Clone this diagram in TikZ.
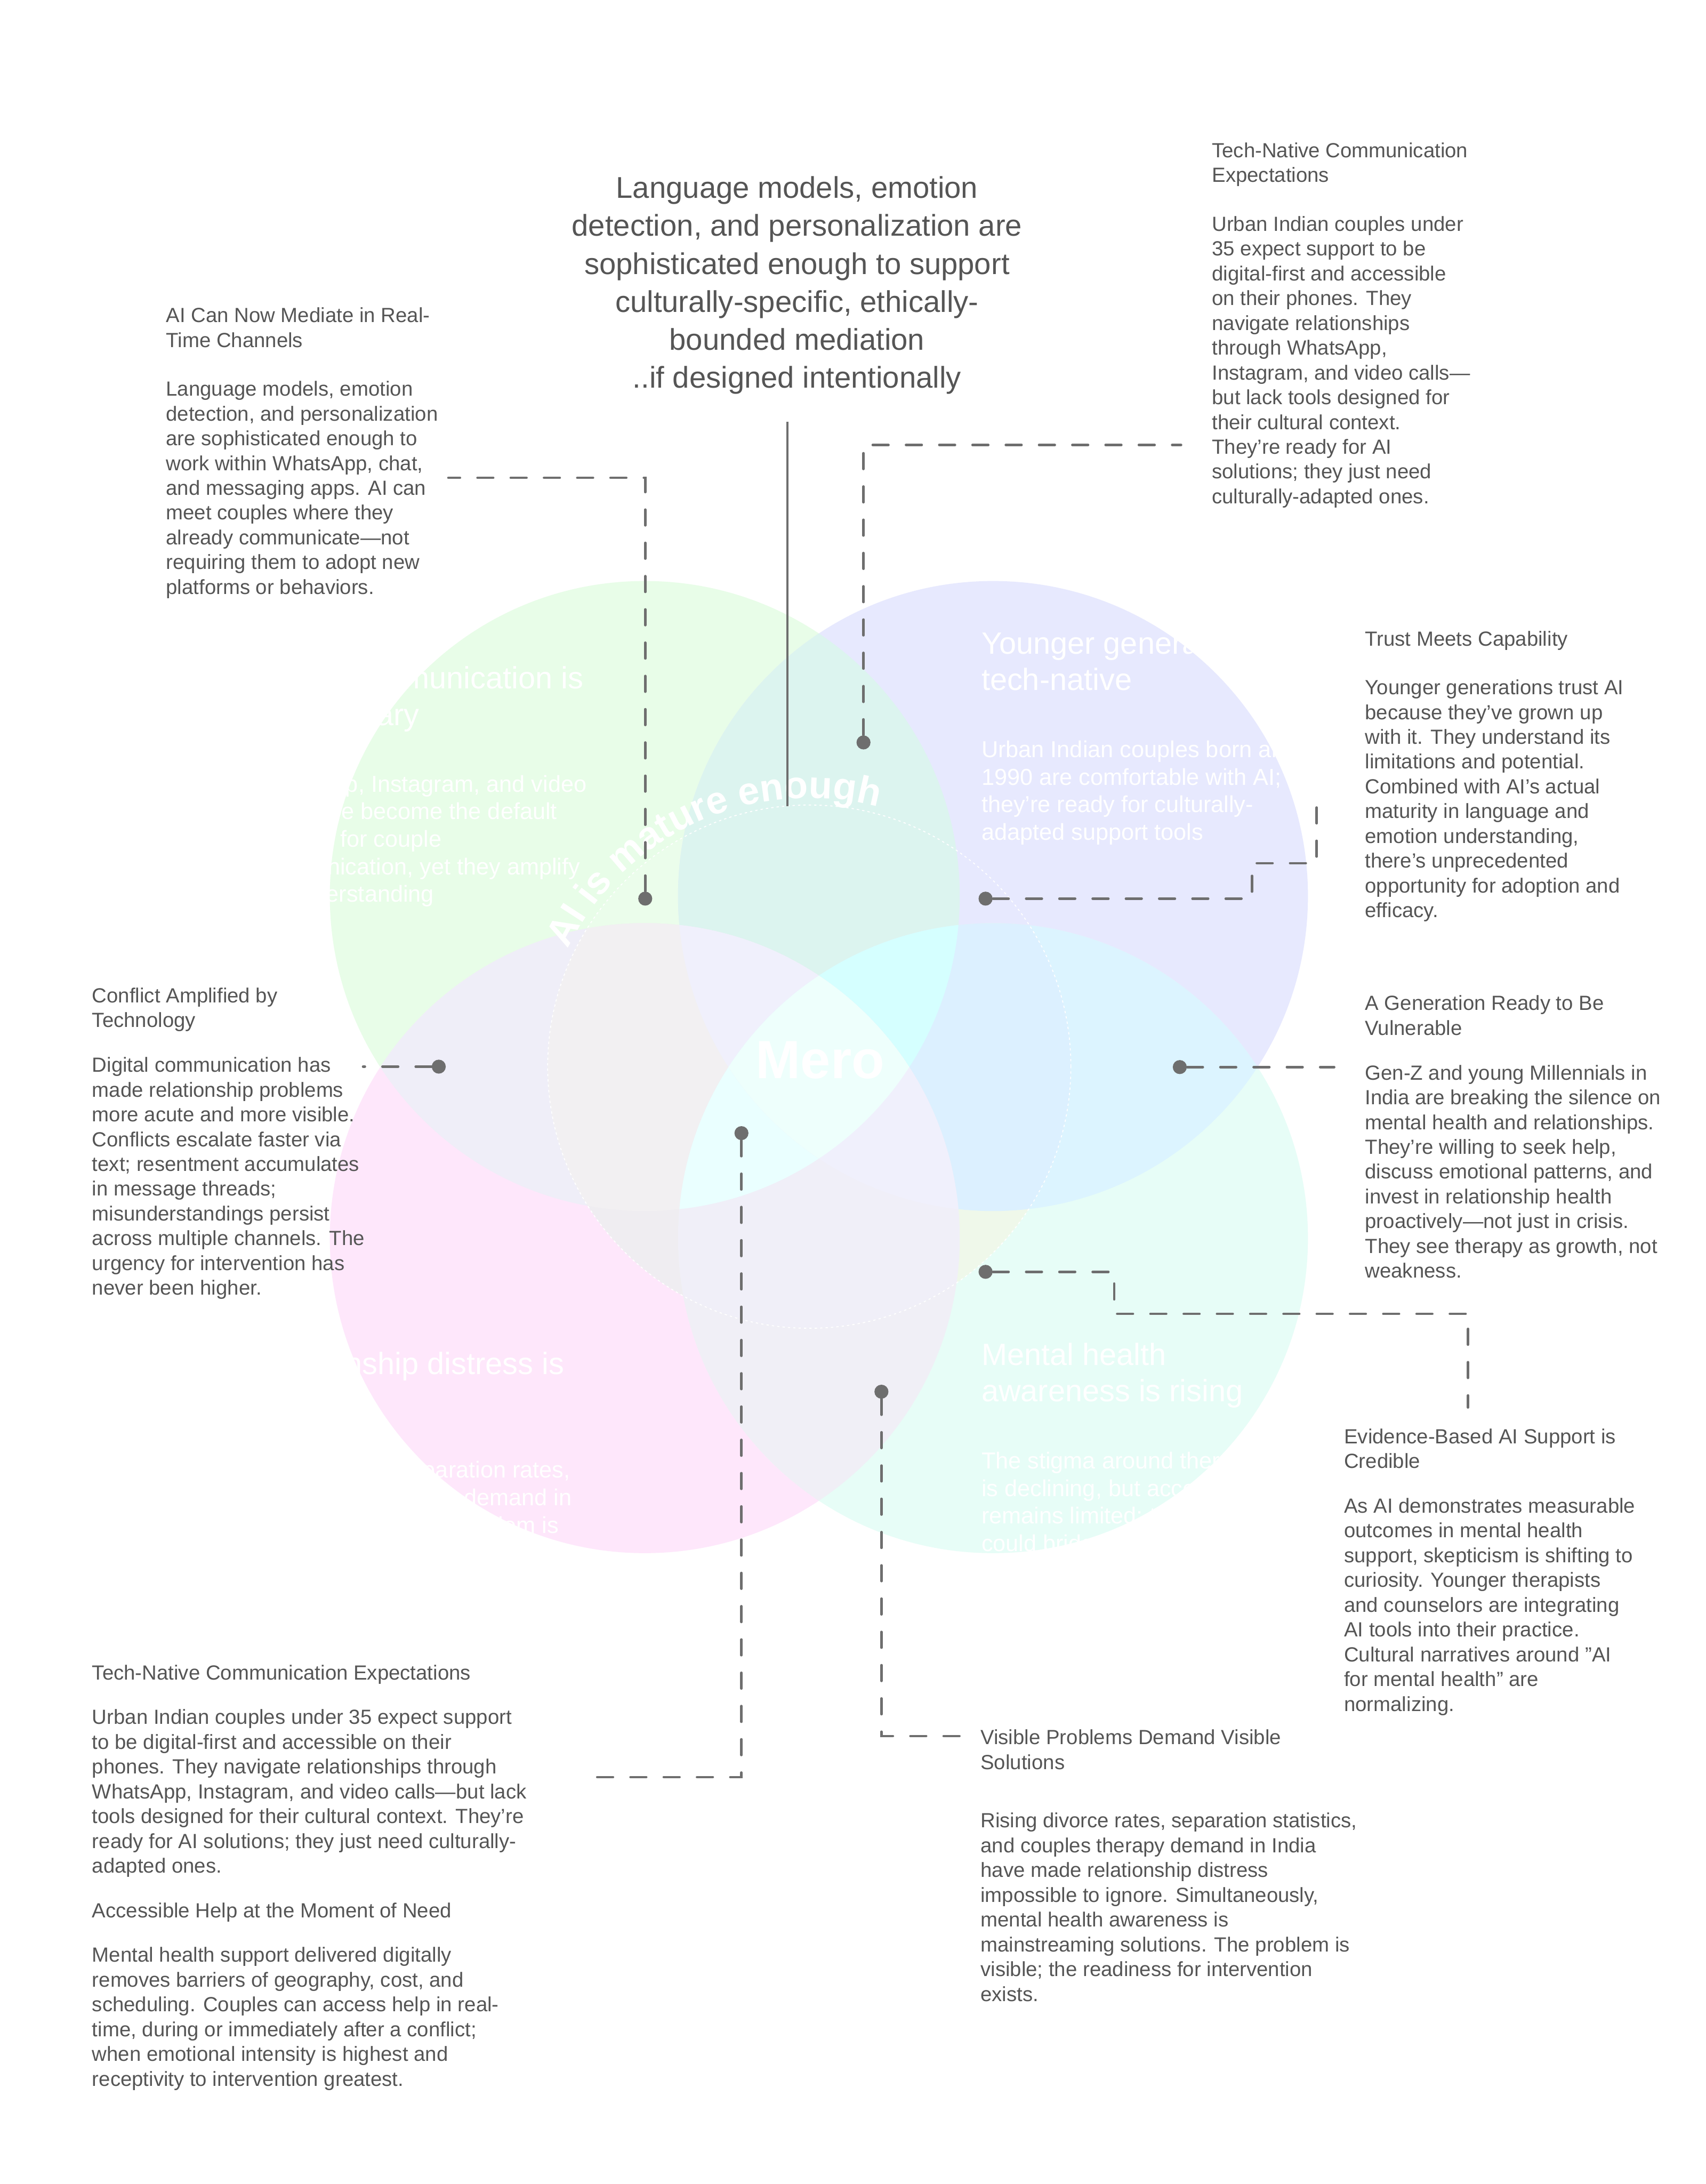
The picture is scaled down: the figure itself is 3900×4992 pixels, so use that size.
\documentclass[tikz,border=0pt]{standalone}
\usepackage{fontspec}
\setmainfont{Liberation Sans}
\usetikzlibrary{decorations.text}

\definecolor{inkgrey}{HTML}{555555}
\definecolor{leadgrey}{HTML}{6E6E6E}
% region colours outside the inner ring
\definecolor{outA}{HTML}{E8FDE8}
\definecolor{outB}{HTML}{E7E9FE}
\definecolor{outC}{HTML}{FEE7FB}
\definecolor{outD}{HTML}{E7FDF7}
\definecolor{outAB}{HTML}{DCF4EF}
\definecolor{outAC}{HTML}{EFEEF8}
\definecolor{outAD}{HTML}{EAFFF8}
\definecolor{outBC}{HTML}{F0F0FA}
\definecolor{outBD}{HTML}{DCF4FF}
\definecolor{outCD}{HTML}{F0EFF6}
\definecolor{outABC}{HTML}{F0F0FC}
\definecolor{outABD}{HTML}{D6FFFF}
\definecolor{outACD}{HTML}{EAFFFF}
\definecolor{outBCD}{HTML}{F0F0FC}
\definecolor{outABCD}{HTML}{EEFFFC}
% region colours inside the inner ring
\definecolor{inA}{HTML}{EBFDEB}
\definecolor{inB}{HTML}{E7E9FE}
\definecolor{inC}{HTML}{EFEDF1}
\definecolor{inD}{HTML}{EFF8EA}
\definecolor{inAB}{HTML}{DCF4EF}
\definecolor{inAC}{HTML}{F2F0F2}
\definecolor{inAD}{HTML}{EAFFF8}
\definecolor{inBC}{HTML}{F0F0FA}
\definecolor{inBD}{HTML}{DCF0FF}
\definecolor{inCD}{HTML}{F0EFF8}
\definecolor{inABC}{HTML}{F0F0FC}
\definecolor{inABD}{HTML}{D5FFFF}
\definecolor{inACD}{HTML}{EAFFFF}
\definecolor{inBCD}{HTML}{F0F0FC}
\definecolor{inABCD}{HTML}{EEFFFC}

\newcommand{\vennfill}[1]{%
  \foreach \c in {A,B,C,D}
    \fill[#1\c] (\c) circle[radius=720];
  \foreach \p/\q in {A/B, A/C, A/D, B/C, B/D, C/D} {
    \begin{scope}
      \clip (\p) circle[radius=720];
      \fill[#1\p\q] (\q) circle[radius=720];
    \end{scope}
  }
  \foreach \p/\q/\r in {A/B/C, A/B/D, A/C/D, B/C/D} {
    \begin{scope}
      \clip (\p) circle[radius=720];
      \clip (\q) circle[radius=720];
      \fill[#1\p\q\r] (\r) circle[radius=720];
    \end{scope}
  }
  \begin{scope}
    \clip (A) circle[radius=720];
    \clip (B) circle[radius=720];
    \clip (C) circle[radius=720];
    \fill[#1ABCD] (D) circle[radius=720];
  \end{scope}
}

\tikzset{
  sidenote/.style={anchor=base west, align=left, inner sep=0pt, text=inkgrey,
                   font=\fontsize{13.3}{16.1}\selectfont},
  headline/.style={anchor=base, align=center, inner sep=0pt, text=inkgrey,
                   font=\fontsize{19.5}{24.7}\selectfont},
  venntitle/.style={anchor=base west, align=left, inner sep=0pt, text=white,
                    font=\fontsize{20}{23.8}\selectfont},
  vennbody/.style={anchor=base west, align=left, inner sep=0pt, text=white,
                   font=\fontsize{15}{17.9}\selectfont},
  pin/.style={circle, fill=leadgrey, inner sep=0pt, minimum size=0.32cm},
  leader/.style={draw=leadgrey, line width=1.6pt, line cap=round,
                 dash pattern=on 0.36cm off 0.40cm},
}

\begin{document}
\begin{tikzpicture}[x=0.01cm, y=0.01cm]
  \fill[white] (0,0) rectangle (3900,-4992);
  \useasboundingbox (0,0) rectangle (3900,-4992);

  % four overlapping circles
  \coordinate (A) at (1474,-2048);
  \coordinate (B) at (2270,-2048);
  \coordinate (C) at (1474,-2830);
  \coordinate (D) at (2270,-2830);
  \coordinate (ring) at (1850,-2438);

  \vennfill{out}
  \begin{scope}
    \clip (ring) circle[radius=598];
    \vennfill{in}
  \end{scope}

  % inner ring with curved caption
  \draw[white, line width=0.6pt, dash pattern=on 1.5pt off 2pt] (ring) circle[radius=598];
  \path[decorate, decoration={text along path,
        text={|\color{white}\fontsize{25}{25}\selectfont\bfseries|AI is mature enough}}]
    ([shift={(154:614)}]ring) arc[start angle=154, end angle=68, radius=614];

  % hidden heading
  \node[anchor=base, inner sep=0pt, text=white, font=\fontsize{20}{24}\selectfont]
    (hidden) at (1822,-285) {AI is now mature enough};

  % main statement
  \node[headline] (claim) at (1822,-887)
    {Language models, emotion\\detection, and personalization are\\sophisticated enough to support\\culturally-specific, ethically-\\bounded mediation\\..if designed intentionally};

  % circle texts
  \node[venntitle] (headA) at (575,-1658) {Digital communication is\\now primary};
  \node[vennbody] (bodyA) at (575,-2062)
    {WhatsApp, Instagram, and video\\calls have become the default\\medium for couple\\communication, yet they amplify\\misunderstanding};
  \node[venntitle] (headB) at (2243,-1578) {Younger generations are\\tech-native};
  \node[vennbody] (bodyB) at (2243,-1920)
    {Urban Indian couples born after\\1990 are comfortable with AI;\\they're ready for culturally-\\adapted support tools};
  \node[venntitle] (headC) at (570,-3225) {Relationship distress is\\visible};
  \node[vennbody] (bodyC) at (570,-3567)
    {Divorce rates, separation rates,\\and couples therapy demand in\\India are rising; the problem is\\no longer hidden};
  \node[venntitle] (headD) at (2243,-3204) {Mental health\\awareness is rising};
  \node[vennbody] (bodyD) at (2243,-3546)
    {The stigma around therapy\\is declining, but access\\remains limited; technology\\could bridge gaps};

  \node[anchor=base, inner sep=0pt, text=white, font=\fontsize{35}{35}\selectfont\bfseries]
    (mero) at (1875,-2465) {Mero};

  % pins and leaders
  \node[pin] (pinMediate) at (1475,-2054) {};
  \node[pin] (pinTechTop) at (1974,-1697) {};
  \node[pin] (pinTrust) at (2253,-2054) {};
  \node[pin] (pinGen) at (2697,-2439) {};
  \node[pin] (pinEvidence) at (2253,-2907) {};
  \node[pin] (pinVisible) at (2015,-3181) {};
  \node[pin] (pinTechBot) at (1695,-2590) {};
  \node[pin] (pinConflict) at (1003,-2438) {};

  \coordinate (mediateEnd) at (1025,-1092);
  \coordinate (techTopEnd) at (2700,-1017);
  \coordinate (trustKnee) at (2862,-1973);
  \coordinate (trustEnd) at (3010,-1836);
  \coordinate (genEnd) at (3050,-2439);
  \coordinate (evKnee) at (2547,-3003);
  \coordinate (evEnd) at (3356,-3217);
  \coordinate (visEnd) at (2194,-3968);
  \coordinate (techBotEnd) at (1362,-4062);
  \coordinate (conflictEnd) at (830,-2438);
  \coordinate (claimTop) at (1800,-964);
  \coordinate (claimEnd) at (1800,-1843);

  \draw[leader] (pinMediate) |- (mediateEnd);
  \draw[leader] (pinTechTop) |- (techTopEnd);
  \draw[leader] (pinTrust) -| (trustKnee) -| (trustEnd);
  \draw[leader] (pinGen) -- (genEnd);
  \draw[leader] (pinEvidence) -| (evKnee) -| (evEnd);
  \draw[leader] (pinVisible) |- (visEnd);
  \draw[leader] (pinTechBot) |- (techBotEnd);
  \draw[leader] (pinConflict) -- (conflictEnd);
  \draw[leadgrey, line width=1.5pt] (claimTop) -- (claimEnd);

  % side notes (placed by the baseline of their last line)
  \node[sidenote] (noteTechTop) at (2770,-1151)
    {Tech-Native Communication\\Expectations\\[15.6pt]Urban Indian couples under\\35 expect support to be\\digital-first and accessible\\on their phones. They\\navigate relationships\\through WhatsApp,\\Instagram, and video calls—\\but lack tools designed for\\their cultural context.\\They're ready for AI\\solutions; they just need\\culturally-adapted ones.};
  \node[sidenote] (noteMediate) at (379,-1358)
    {AI Can Now Mediate in Real-\\Time Channels\\[15.6pt]Language models, emotion\\detection, and personalization\\are sophisticated enough to\\work within WhatsApp, chat,\\and messaging apps. AI can\\meet couples where they\\already communicate—not\\requiring them to adopt new\\platforms or behaviors.};
  \node[sidenote] (noteTrust) at (3120,-2097)
    {Trust Meets Capability\\[15.6pt]Younger generations trust AI\\because they've grown up\\with it. They understand its\\limitations and potential.\\Combined with AI's actual\\maturity in language and\\emotion understanding,\\there's unprecedented\\opportunity for adoption and\\efficacy.};
  \node[sidenote] (noteGen) at (3120,-2921)
    {A Generation Ready to Be\\Vulnerable\\[12.9pt]Gen-Z and young Millennials in\\India are breaking the silence on\\mental health and relationships.\\They're willing to seek help,\\discuss emotional patterns, and\\invest in relationship health\\proactively—not just in crisis.\\They see therapy as growth, not\\weakness.};
  \node[sidenote] (noteConflict) at (210,-2960)
    {Conflict Amplified by\\Technology\\[12.9pt]Digital communication has\\made relationship problems\\more acute and more visible.\\Conflicts escalate faster via\\text; resentment accumulates\\in message threads;\\misunderstandings persist\\across multiple channels. The\\urgency for intervention has\\never been higher.};
  \node[sidenote] (noteEvidence) at (3072,-3911)
    {Evidence-Based AI Support is\\Credible\\[12.9pt]As AI demonstrates measurable\\outcomes in mental health\\support, skepticism is shifting to\\curiosity. Younger therapists\\and counselors are integrating\\AI tools into their practice.\\Cultural narratives around "AI\\for mental health" are\\normalizing.};
  \node[sidenote] (noteVisible) at (2241,-4574)
    {Visible Problems Demand Visible\\Solutions\\[21.9pt]Rising divorce rates, separation statistics,\\and couples therapy demand in India\\have made relationship distress\\impossible to ignore. Simultaneously,\\mental health awareness is\\mainstreaming solutions. The problem is\\visible; the readiness for intervention\\exists.};
  \node[sidenote] (noteTechBot) at (210,-4768)
    {Tech-Native Communication Expectations\\[12.9pt]Urban Indian couples under 35 expect support\\to be digital-first and accessible on their\\phones. They navigate relationships through\\WhatsApp, Instagram, and video calls—but lack\\tools designed for their cultural context. They're\\ready for AI solutions; they just need culturally-\\adapted ones.\\[12.9pt]Accessible Help at the Moment of Need\\[12.9pt]Mental health support delivered digitally\\removes barriers of geography, cost, and\\scheduling. Couples can access help in real-\\time, during or immediately after a conflict;\\when emotional intensity is highest and\\receptivity to intervention greatest.};
\end{tikzpicture}
\end{document}
